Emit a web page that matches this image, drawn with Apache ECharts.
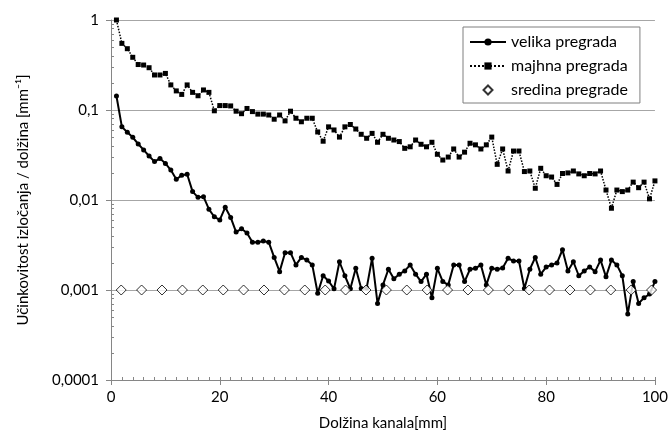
<!DOCTYPE html>
<html>
<head>
<meta charset="utf-8">
<script src="https://cdn.jsdelivr.net/npm/echarts@6/dist/echarts.min.js"></script>
<style>
  html, body { margin: 0; padding: 0; background: #fff; }
  #container { width: 671px; height: 437px; }
</style>
</head>
<body>
<div id="container"></div>
<script type="text/javascript">
// x positions (mm) for the two measured series
var xPos = [1,2,3,4,5,6,7,8,9,10,11,12,13,14,15,16,17,18,19,20,
  21,22,23,24,25,26,27,28,29,30,31,32,33,34,35,36,37,38,39,40,
  41,42,43,44,45,46,47,48,49,50,51,52,53,54,55,56,57,58,59,60,
  61,62,63,64,65,66,67,68,69,70,71,72,73,74,75,76,77,78,79,80,
  81,82,83,84,85,86,87,88,89,90,91,92,93,94,95,96,97,98,99,100];

var velika = [0.143,0.065,0.0565,0.0497,0.0419,0.036,0.0308,0.0267,0.029,0.0255,
  0.0215,0.017,0.0188,0.0193,0.0124,0.0107,0.0109,0.0079,0.0065,0.006,
  0.0083,0.0064,0.0044,0.0048,0.0043,0.0034,0.0034,0.0035,0.0034,0.0023,
  0.0016,0.0026,0.0026,0.0019,0.0023,0.00215,0.0019,0.00092,0.00144,0.00126,
  0.00103,0.00206,0.00144,0.00103,0.00174,0.00104,0.00105,0.00225,0.00071,0.00114,
  0.0017,0.00133,0.0015,0.00163,0.0019,0.0015,0.00124,0.0015,0.00082,0.00174,
  0.00124,0.00114,0.0019,0.0019,0.00124,0.0017,0.00174,0.0019,0.00114,0.00174,
  0.0017,0.00176,0.00225,0.0021,0.0021,0.00104,0.0017,0.0023,0.0015,0.0018,
  0.0019,0.002,0.0028,0.00163,0.00206,0.00144,0.00163,0.0018,0.0016,0.00215,
  0.0014,0.00215,0.0019,0.00144,0.00054,0.00124,0.00071,0.00082,0.0009,0.00124];

var majhna = [1.0,0.55,0.48,0.385,0.32,0.316,0.295,0.245,0.245,0.255,
  0.19,0.163,0.149,0.19,0.157,0.144,0.167,0.157,0.098,0.112,
  0.112,0.111,0.097,0.091,0.104,0.096,0.09,0.09,0.088,0.079,
  0.088,0.0757,0.097,0.081,0.074,0.081,0.081,0.057,0.045,0.065,
  0.06,0.05,0.065,0.069,0.0615,0.0537,0.0485,0.055,0.0438,0.0537,
  0.0485,0.0464,0.0446,0.0375,0.039,0.0464,0.0416,0.039,0.0438,0.0322,
  0.0278,0.03,0.0369,0.03,0.034,0.0427,0.041,0.0369,0.041,0.05,
  0.0249,0.0369,0.021,0.035,0.035,0.0207,0.021,0.0135,0.0225,0.0186,
  0.018,0.0149,0.0197,0.02,0.021,0.0195,0.0186,0.0197,0.0195,0.021,
  0.0129,0.0081,0.0129,0.0124,0.0129,0.0158,0.0137,0.0158,0.0103,0.0163];

// sredina pregrade
var sredinaX = [1.875,5.625,9.375,13.125,16.875,20.625,24.375,28.125,31.875,35.625,
  39.375,43.125,46.875,50.625,54.375,58.125,61.875,65.625,69.375,73.125,
  76.875,80.625,84.375,88.125,91.875,95.625,99.375];
var sredinaY = [0.001,0.001,0.001,0.001,0.001,0.001,0.001,0.001,0.001,0.001,
  0.001,0.001,0.001,0.001,0.001,0.001,0.001,0.001,0.001,0.001,
  0.001,0.001,0.001,0.001,0.001,0.001,0.001];

var seriesNames = ['velika pregrada', 'majhna pregrada', 'sredina pregrade'];

// tick labels
var yTickValues = [0.0001, 0.001, 0.01, 0.1, 1];
var yTickLabels = ['0,0001', '0,001', '0,01', '0,1', '1'];
var yMinorTicks = [0.0002,0.0003,0.0004,0.0005,0.0006,0.0007,0.0008,0.0009,
  0.002,0.003,0.004,0.005,0.006,0.007,0.008,0.009,
  0.02,0.03,0.04,0.05,0.06,0.07,0.08,0.09,
  0.2,0.3,0.4,0.5,0.6,0.7,0.8,0.9];

function pairs(xs, ys) {
  var out = [];
  for (var i = 0; i < xs.length; i++) out.push([xs[i], ys[i]]);
  return out;
}

var FONT = 'Lato, "Open Sans", sans-serif';
var AXIS_GRAY = '#868686';

var dom = document.getElementById("container");
var myChart = echarts.init(dom, null, {renderer: 'canvas'});

var option = {
  animation: false,
  backgroundColor: '#fff',
  textStyle: { fontFamily: FONT, color: '#000' },
  grid: { left: 111, right: 16, top: 20, bottom: 57 },
  legend: {
    orient: 'vertical',
    left: 463,
    top: 27,
    width: 189,
    data: [
      { name: seriesNames[0] },
      { name: seriesNames[1] },
      { name: seriesNames[2], icon: 'path://M5 0 L10 5 L5 10 L0 5 Z' }
    ],
    backgroundColor: '#fff',
    borderColor: '#7f7f7f',
    borderWidth: 1,
    padding: [7, 12, 5, 6],
    itemGap: 8,
    itemWidth: 36,
    itemHeight: 9,
    textStyle: { fontFamily: FONT, fontSize: 16, color: '#000' }
  },
  xAxis: [{
    type: 'value',
    min: 0, max: 100, interval: 20,
    position: 'bottom',
    name: 'Dolžina kanala[mm]',
    nameLocation: 'middle',
    nameGap: 36,
    nameTextStyle: { fontFamily: FONT, fontSize: 15, color: '#000' },
    axisLine: { lineStyle: { color: AXIS_GRAY, width: 1 } },
    axisTick: { show: true, length: 5, lineStyle: { color: AXIS_GRAY } },
    axisLabel: { fontFamily: FONT, fontSize: 15, color: '#000', margin: 10 },
    splitLine: { show: false }
  }, {
    type: 'value',
    min: 0, max: 100, interval: 2,
    position: 'bottom',
    axisLine: { show: false },
    axisTick: { show: true, inside: true, length: 3, lineStyle: { color: AXIS_GRAY } },
    axisLabel: { show: false },
    splitLine: { show: false }
  }],
  yAxis: [{
    type: 'log',
    logBase: 10,
    min: 0.0001, max: 1,
    position: 'left',
    name: 'Učinkovitost izločanja / dolžina [mm⁻¹]',
    nameLocation: 'middle',
    nameGap: 80,
    nameTextStyle: { fontFamily: FONT, fontSize: 15, color: '#000' },
    axisLine: { show: true, lineStyle: { color: AXIS_GRAY, width: 1 } },
    axisTick: { show: true, length: 5, lineStyle: { color: AXIS_GRAY } },
    axisLabel: {
      fontFamily: FONT, fontSize: 15, color: '#000', margin: 12,
      formatter: function (v) {
        for (var i = 0; i < yTickValues.length; i++) {
          if (Math.abs(Math.log10(v) - Math.log10(yTickValues[i])) < 1e-6) return yTickLabels[i];
        }
        return '';
      }
    },
    splitLine: { show: true, lineStyle: { color: '#a6a6a6', width: 1 } }
  }, {
    type: 'log',
    logBase: 10,
    min: 0.0001, max: 1,
    position: 'left',
    axisLine: { show: false },
    axisTick: { show: true, inside: true, length: 3, customValues: yMinorTicks,
      lineStyle: { color: AXIS_GRAY } },
    axisLabel: { show: false },
    splitLine: { show: false }
  }],
  series: [{
    name: seriesNames[0],
    type: 'line',
    xAxisIndex: 0, yAxisIndex: 0,
    data: pairs(xPos, velika),
    symbol: 'circle',
    symbolSize: 5,
    itemStyle: { color: '#000' },
    lineStyle: { color: '#000', width: 2 },
    z: 3
  }, {
    name: seriesNames[1],
    type: 'line',
    xAxisIndex: 0, yAxisIndex: 0,
    data: pairs(xPos, majhna),
    symbol: 'rect',
    symbolSize: 5,
    itemStyle: { color: '#000' },
    lineStyle: { color: '#000', width: 1.5, type: 'dotted' },
    z: 2
  }, {
    name: seriesNames[2],
    type: 'scatter',
    xAxisIndex: 0, yAxisIndex: 0,
    data: pairs(sredinaX, sredinaY),
    symbol: 'diamond',
    symbolSize: 10,
    itemStyle: { color: '#fff', borderColor: '#000', borderWidth: 1 },
    z: 4
  }]
};

myChart.setOption(option);
</script>
</body>
</html>
